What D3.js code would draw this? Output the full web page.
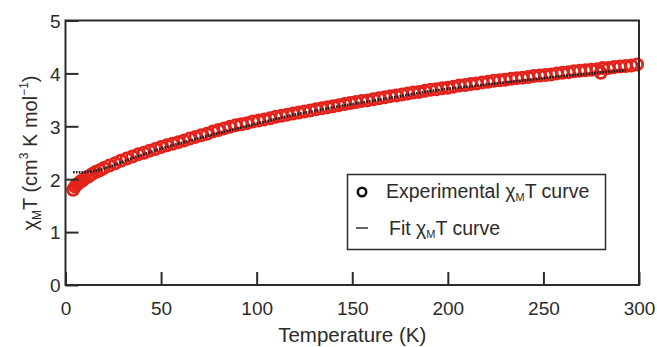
<!DOCTYPE html>
<html><head><meta charset="utf-8">
<script src="https://cdn.jsdelivr.net/npm/d3@7"></script>
<style>body{margin:0;background:#fff}svg{display:block;font-family:"Liberation Sans",Arial,sans-serif}</style>
</head><body>
<svg id="c" width="657" height="347"></svg>
<script>
const expT = [4,5,6,7,8,9,10,12,14,16,18,20,23,26,29,32,35,38,41,44,47,50,53,56,59,62,65,68,71,74,77,80,83,86,89,92,95,98,101,104,107,110,113,116,119,122,125,128,131,134,137,140,143,146,149,152,155,158,161,164,167,170,173,176,179,182,185,188,191,194,197,200,203,206,209,212,215,218,221,224,227,230,233,236,239,242,245,248,251,254,257,260,263,266,269,272,275,278,280,281,284,287,290,293,296,299];
const expChiT = [1.80,1.86,1.90,1.93,1.96,1.98,2.01,2.05,2.10,2.14,2.17,2.21,2.26,2.30,2.35,2.39,2.43,2.47,2.50,2.54,2.57,2.61,2.64,2.67,2.70,2.73,2.77,2.80,2.83,2.86,2.90,2.93,2.96,2.99,3.02,3.04,3.06,3.09,3.11,3.13,3.15,3.18,3.20,3.22,3.24,3.26,3.28,3.30,3.32,3.34,3.36,3.38,3.40,3.42,3.44,3.46,3.48,3.49,3.51,3.53,3.55,3.57,3.58,3.60,3.62,3.64,3.65,3.67,3.69,3.70,3.72,3.73,3.75,3.77,3.78,3.80,3.81,3.83,3.84,3.86,3.87,3.88,3.90,3.91,3.92,3.93,3.95,3.96,3.97,3.98,4.00,4.01,4.02,4.04,4.05,4.06,4.07,4.08,4.01,4.10,4.10,4.12,4.13,4.14,4.15,4.17];
const fitT = [4,8,12,16,20,25,30,35,40,50,60,70,80,90,100,110,120,130,140,150,160,170,180,190,200,210,220,230,240,250,260,270,280,293];
const fitChiT = [2.13,2.13,2.14,2.16,2.20,2.26,2.33,2.40,2.46,2.58,2.68,2.78,2.87,2.96,3.05,3.14,3.22,3.29,3.36,3.42,3.48,3.54,3.60,3.66,3.71,3.75,3.79,3.83,3.87,3.91,3.95,3.98,4.02,4.06];
const xTicks = [0,50,100,150,200,250,300];
const yTicks = [0,1,2,3,4,5];

const svg = d3.select("#c");
const L=65.5, R=639, T=20.5, B=285;
const x = d3.scaleLinear().domain([0,300]).range([L,R]);
const y = d3.scaleLinear().domain([0,5]).range([B,T]);
const ink="#2b2b2b", red="#e3231b";

// data: experimental
svg.append("g").selectAll("circle").data(expT.map((t,i)=>[t,expChiT[i]])).join("circle")
  .attr("cx",d=>x(d[0])).attr("cy",d=>y(d[1])).attr("r",5.6)
  .attr("fill","none").attr("stroke",red).attr("stroke-width",2.8);
// fit
svg.append("path").datum(fitT.map((t,i)=>[t,fitChiT[i]]))
  .attr("d",d3.line().x(d=>x(d[0])).y(d=>y(d[1])).curve(d3.curveMonotoneX))
  .attr("fill","none").attr("stroke","#1a1a1a").attr("stroke-width",2.6).attr("stroke-dasharray","1.6,1.2");

// axes
const xa = svg.append("g").attr("transform",`translate(0,${B})`)
  .call(d3.axisBottom(x).tickValues(xTicks).tickSize(-13).tickPadding(17).tickFormat(d3.format("d")));
const ya = svg.append("g").attr("transform",`translate(${L},0)`)
  .call(d3.axisLeft(y).tickValues(yTicks).tickSize(-13).tickPadding(5).tickFormat(d3.format("d")));
[xa,ya].forEach(a=>{
  a.select(".domain").remove();
  a.selectAll(".tick line").attr("stroke",ink).attr("stroke-width",2);
  a.selectAll(".tick text").attr("fill",ink).attr("font-size",19).attr("font-family","Liberation Sans, Arial, sans-serif");
});
ya.selectAll(".tick text").attr("dy","0.36em");
svg.append("rect").attr("x",L).attr("y",T).attr("width",R-L).attr("height",B-T)
  .attr("fill","none").attr("stroke",ink).attr("stroke-width",2);

// axis titles
svg.append("text").attr("x",(L+R)/2).attr("y",342).attr("text-anchor","middle")
  .attr("font-size",20.5).attr("fill",ink).text("Temperature (K)");
const yl = svg.append("text").attr("transform","translate(37,153) rotate(-90)").attr("text-anchor","middle")
  .attr("font-size",20).attr("fill",ink);
yl.append("tspan").text("χ");
yl.append("tspan").attr("font-size",12).attr("dy",4).text("M");
yl.append("tspan").attr("dy",-4).text("T (cm");
yl.append("tspan").attr("font-size",12).attr("dy",-9).text("3");
yl.append("tspan").attr("dy",9).text(" K mol");
yl.append("tspan").attr("font-size",12).attr("dy",-9).text("−1");
yl.append("tspan").attr("dy",9).text(")");

// legend
const lg = svg.append("g");
lg.append("rect").attr("x",347.5).attr("y",174.5).attr("width",258).attr("height",75)
  .attr("fill","#fff").attr("stroke",ink).attr("stroke-width",1.5);
lg.append("circle").attr("cx",362).attr("cy",192).attr("r",4.2).attr("fill","none").attr("stroke","#111").attr("stroke-width",2.6);
lg.append("line").attr("x1",356).attr("x2",368).attr("y1",228).attr("y2",228).attr("stroke","#111").attr("stroke-width",1.3);
const t1 = lg.append("text").attr("x",386).attr("y",198).attr("font-size",19.5).attr("fill",ink);
t1.append("tspan").text("Experimental χ");
t1.append("tspan").attr("font-size",11).attr("dy",3).text("M");
t1.append("tspan").attr("dy",-3).text("T curve");
const t2 = lg.append("text").attr("x",389).attr("y",235).attr("font-size",19.5).attr("fill",ink);
t2.append("tspan").text("Fit χ");
t2.append("tspan").attr("font-size",11).attr("dy",3).text("M");
t2.append("tspan").attr("dy",-3).text("T curve");
</script>
</body></html>
